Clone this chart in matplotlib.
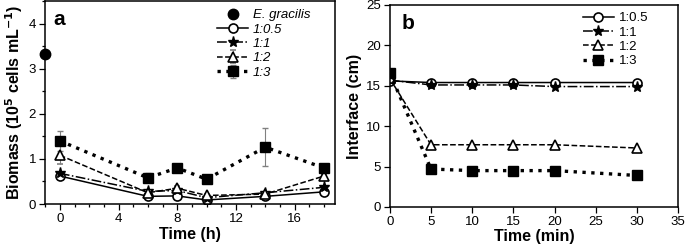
import matplotlib
matplotlib.use("Agg")
import matplotlib.pyplot as plt
from matplotlib.ticker import MultipleLocator

plt.rcParams['font.family'] = ['Liberation Sans', 'DejaVu Sans']

# panel a: biomass
t_h = [0, 6, 8, 10, 14, 18]
eg_t = [-1]
eg_val = [3.33]
bio_05 = [0.62, 0.17, 0.18, 0.09, 0.17, 0.27]
bio_1 = [0.68, 0.28, 0.30, 0.14, 0.25, 0.37]
bio_2 = [1.08, 0.25, 0.35, 0.19, 0.22, 0.62]
bio_3 = [1.40, 0.58, 0.80, 0.55, 1.26, 0.80]
err_2 = [0.20, 0.04, 0.04, 0.03, 0.03, 0.05]
err_3 = [0.22, 0.10, 0.05, 0.03, 0.42, 0.06]

# panel b: interface height
t_min = [0, 5, 10, 15, 20, 30]
int_05 = [15.6, 15.4, 15.4, 15.4, 15.4, 15.4]
int_1 = [15.7, 15.1, 15.1, 15.1, 14.9, 14.9]
int_2 = [15.9, 7.7, 7.7, 7.7, 7.7, 7.3]
int_3 = [16.6, 4.7, 4.5, 4.5, 4.5, 3.9]

labels = ['1:0.5', '1:1', '1:2', '1:3']

fig = plt.figure(figsize=(6.85, 2.47), dpi=100)
ax1 = fig.add_axes([0.066, 0.174, 0.423, 0.822])
ax2 = fig.add_axes([0.569, 0.162, 0.421, 0.818])

lw = 1.1
ms = 6.5

ax1.plot(eg_t, eg_val, 'o', color='black', ms=7.5, label='E. gracilis', clip_on=False, zorder=5)
ax1.plot(t_h, bio_05, '-o', color='black', mfc='white', mew=1.2, lw=lw, ms=ms, label=labels[0])
ax1.plot(t_h, bio_1, '-.*', color='black', lw=lw, ms=ms + 1.5, label=labels[1])
ax1.errorbar(t_h, bio_2, yerr=err_2, fmt='--^', color='black', mfc='white', mew=1.2, lw=lw, ms=ms,
             ecolor='gray', elinewidth=0.8, capsize=2, label=labels[2])
ax1.errorbar(t_h, bio_3, yerr=err_3, fmt=':s', color='black', lw=2.4, ms=ms + 0.5,
             ecolor='gray', elinewidth=0.8, capsize=2, label=labels[3])

ax1.set_xlim(-1, 18.75)
ax1.set_ylim(0, 4.5)
ax1.set_xticks([0, 4, 8, 12, 16])
ax1.set_yticks([0, 1, 2, 3, 4])
ax1.xaxis.set_minor_locator(MultipleLocator(1))
ax1.yaxis.set_minor_locator(MultipleLocator(0.5))
ax1.set_xlabel('Time (h)', fontsize=11.5, fontweight='bold', labelpad=1.5)
ax1.set_ylabel('Biomass (10$^{\\mathbf{5}}$ cells mL$^{\\mathbf{-1}}$)', fontsize=11.5,
               fontweight='bold', labelpad=3)
ax1.text(0.028, 0.91, 'a', transform=ax1.transAxes, fontsize=15, fontweight='bold', va='center')
leg1 = ax1.legend(loc='upper left', bbox_to_anchor=(0.593, 0.96), frameon=False, fontsize=9.5,
                  handlelength=2.35, borderpad=0, borderaxespad=0, labelspacing=0.16,
                  handletextpad=0.35)
for t in leg1.get_texts():
    t.set_fontstyle('italic')

ax2.plot(t_min, int_05, '-o', color='black', mfc='white', mew=1.2, lw=lw, ms=ms, label=labels[0])
ax2.plot(t_min, int_1, '-.*', color='black', lw=lw, ms=ms + 1.5, label=labels[1])
ax2.plot(t_min, int_2, '--^', color='black', mfc='white', mew=1.2, lw=lw, ms=ms, label=labels[2])
ax2.plot(t_min, int_3, ':s', color='black', lw=2.4, ms=ms + 0.5, label=labels[3])

ax2.set_xlim(0, 35)
ax2.set_ylim(0, 25)
ax2.set_xticks(range(0, 36, 5))
ax2.set_yticks(range(0, 26, 5))
ax2.set_xlabel('Time (min)', fontsize=11.5, fontweight='bold', labelpad=1)
ax2.set_ylabel('Interface (cm)', fontsize=11.5, fontweight='bold', labelpad=3)
ax2.text(0.042, 0.906, 'b', transform=ax2.transAxes, fontsize=15, fontweight='bold', va='center')
ax2.legend(loc='upper left', bbox_to_anchor=(0.67, 0.965), frameon=False, fontsize=9.5,
           handlelength=2.35, borderpad=0, borderaxespad=0, labelspacing=0.16,
           handletextpad=0.35)

for ax in (ax1, ax2):
    for s in ax.spines.values():
        s.set_linewidth(1.1)
    ax.tick_params(which='both', direction='out', labelsize=9.5, width=0.9, pad=2.5)
    ax.tick_params(which='major', length=4)
    ax.tick_params(which='minor', length=2.5)

fig.savefig('out.png', dpi=100)
